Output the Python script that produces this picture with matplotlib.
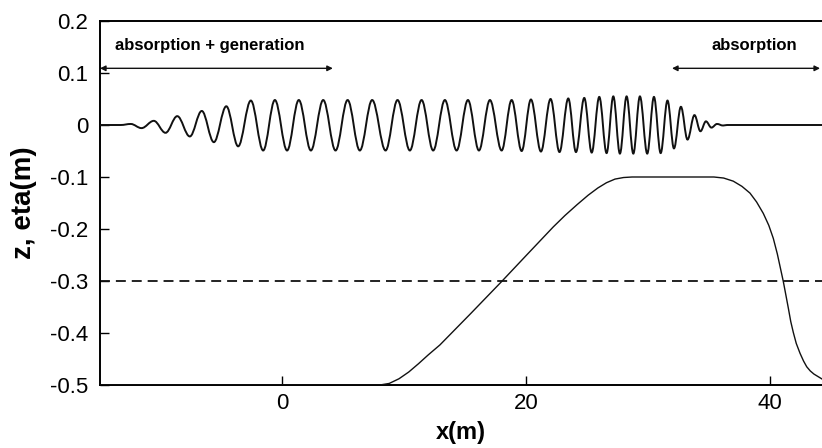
import numpy as np
import matplotlib
matplotlib.use('Agg')
import matplotlib.pyplot as plt
from matplotlib.path import Path
from matplotlib.patches import PathPatch

plt.rcParams['font.family'] = ['Liberation Sans', 'DejaVu Sans']
plt.rcParams['axes.unicode_minus'] = False

# free-surface elevation: start/end of flat parts and crest/trough extrema (x in m, eta in m)
wave_x = [-14.9, -13.2, -12.38, -11.50, -10.49, -9.53, -8.57, -7.54, -6.56, -5.57,
          -4.55, -3.58, -2.54, -1.53, -0.57, 0.43, 1.39, 2.38, 3.39, 4.40,
          5.39, 6.39, 7.40, 8.50, 9.48, 10.49, 11.45, 12.40, 13.36, 14.32,
          15.25, 16.15, 17.05, 18.01, 18.83, 19.65, 20.41, 21.23, 22.02, 22.75,
          23.47, 24.10, 24.78, 25.39, 26.01, 26.61, 27.16, 27.70, 28.25, 28.80,
          29.34, 29.94, 30.49, 31.04, 31.60, 32.13, 32.70, 33.24, 33.81, 34.30,
          34.75, 35.20, 35.66, 36.15, 36.48, 44.3]
wave_eta = [0.0, 0.0, 0.002, -0.006, 0.008, -0.015, 0.017, -0.022, 0.027, -0.033,
            0.036, -0.041, 0.047, -0.049, 0.048, -0.049, 0.048, -0.049, 0.048, -0.049,
            0.048, -0.049, 0.048, -0.049, 0.048, -0.049, 0.048, -0.049, 0.048, -0.049,
            0.048, -0.049, 0.048, -0.049, 0.048, -0.050, 0.049, -0.051, 0.050, -0.052,
            0.051, -0.052, 0.052, -0.053, 0.054, -0.054, 0.055, -0.055, 0.055, -0.055,
            0.055, -0.055, 0.054, -0.054, 0.047, -0.045, 0.035, -0.028, 0.019, -0.012,
            0.007, -0.005, 0.002, -0.001, 0.0, 0.0]

# bottom profile (x in m, z in m)
bed_x = [-14.9, 8.03, 8.8, 9.6, 10.4, 11.2, 12.0, 12.95, 15.5, 18.01, 20.1, 22.24,
         23.2, 24.2, 25.1, 25.9, 26.6, 27.3, 28.0, 28.7, 35.4, 36.2, 36.99, 37.7,
         38.36, 38.9, 39.45, 39.9, 40.27, 40.6, 40.85, 41.09, 41.3, 41.5, 41.7,
         41.91, 42.15, 42.46, 42.75, 43.01, 43.3, 43.6, 44.3]
bed_z = [-0.5, -0.5, -0.497, -0.488, -0.475, -0.459, -0.442, -0.423, -0.362, -0.301,
         -0.249, -0.196, -0.174, -0.153, -0.135, -0.121, -0.111, -0.104, -0.101, -0.1,
         -0.1, -0.102, -0.108, -0.118, -0.131, -0.148, -0.17, -0.193, -0.218, -0.248,
         -0.275, -0.301, -0.327, -0.352, -0.378, -0.399, -0.42, -0.439, -0.454,
         -0.465, -0.473, -0.479, -0.489]

still_water_level = -0.3

zones_text = ['absorption + generation', 'absorption']
zones_from = [-14.9, 31.97]
zones_to = [4.18, 44.1]
zones_text_x = [-13.69, 38.75]

x_ticks = [0, 20, 40]
y_ticks = [-0.5, -0.4, -0.3, -0.2, -0.1, 0.0, 0.1, 0.2]
y_tick_labels = ['-0.5', '-0.4', '-0.3', '-0.2', '-0.1', '0', '0.1', '0.2']

fig = plt.figure(figsize=(8.22, 4.48), dpi=100)
ax = fig.add_axes([100/822, 1-385/448, 1-100/822, 364/448])
ax.set_xlim(-14.9, 44.26)
ax.set_ylim(-0.5, 0.2)

# wave: smooth curve through the extrema (cubic Bezier with flat tangents)
verts = [(wave_x[0], wave_eta[0])]
codes = [Path.MOVETO]
k = 0.364
for i in range(1, len(wave_x)):
    x0, y0 = wave_x[i-1], wave_eta[i-1]
    x1, y1 = wave_x[i], wave_eta[i]
    dx = x1 - x0
    verts += [(x0 + k*dx, y0), (x1 - k*dx, y1), (x1, y1)]
    codes += [Path.CURVE4]*3
ax.add_patch(PathPatch(Path(verts, codes), fill=False, lw=1.4, ec='#111111',
                       transform=ax.transData, zorder=3))

ax.plot(bed_x, bed_z, color='#111111', lw=1.0, zorder=3, solid_joinstyle='round')
ax.axhline(still_water_level, color='#111111', lw=1.3, ls=(0, (5.5, 3.3)), zorder=2)

for txt, x0, x1 in zip(zones_text, zones_from, zones_to):
    ax.annotate('', xy=(x1, 0.109), xytext=(x0, 0.109),
                arrowprops=dict(arrowstyle='<|-|>', color='#111111', lw=1.0,
                                mutation_scale=8, shrinkA=0, shrinkB=0))
ha = ['left', 'center']
for txt, tx, h in zip(zones_text, zones_text_x, ha):
    ax.text(tx, 0.152, txt, ha=h, va='center', fontsize=12, fontweight='bold')

ax.set_xticks(x_ticks)
ax.set_xticklabels([str(v) for v in x_ticks])
ax.set_yticks(y_ticks)
ax.set_yticklabels(y_tick_labels)
ax.tick_params(direction='in', length=6.5, width=1.0, labelsize=16)
ax.tick_params(axis='y', pad=8.5)
ax.tick_params(axis='x', pad=6)
for s in ['left', 'bottom', 'top']:
    ax.spines[s].set_linewidth(1.4)
ax.spines['right'].set_visible(False)

ax.set_xlabel('x(m)', fontsize=17, fontweight='bold', labelpad=5)
ax.set_ylabel('z, eta(m)', fontsize=20, fontweight='bold', labelpad=9,
              family=['Liberation Sans Narrow', 'Liberation Sans'])

fig.savefig('out.png', dpi=100)
